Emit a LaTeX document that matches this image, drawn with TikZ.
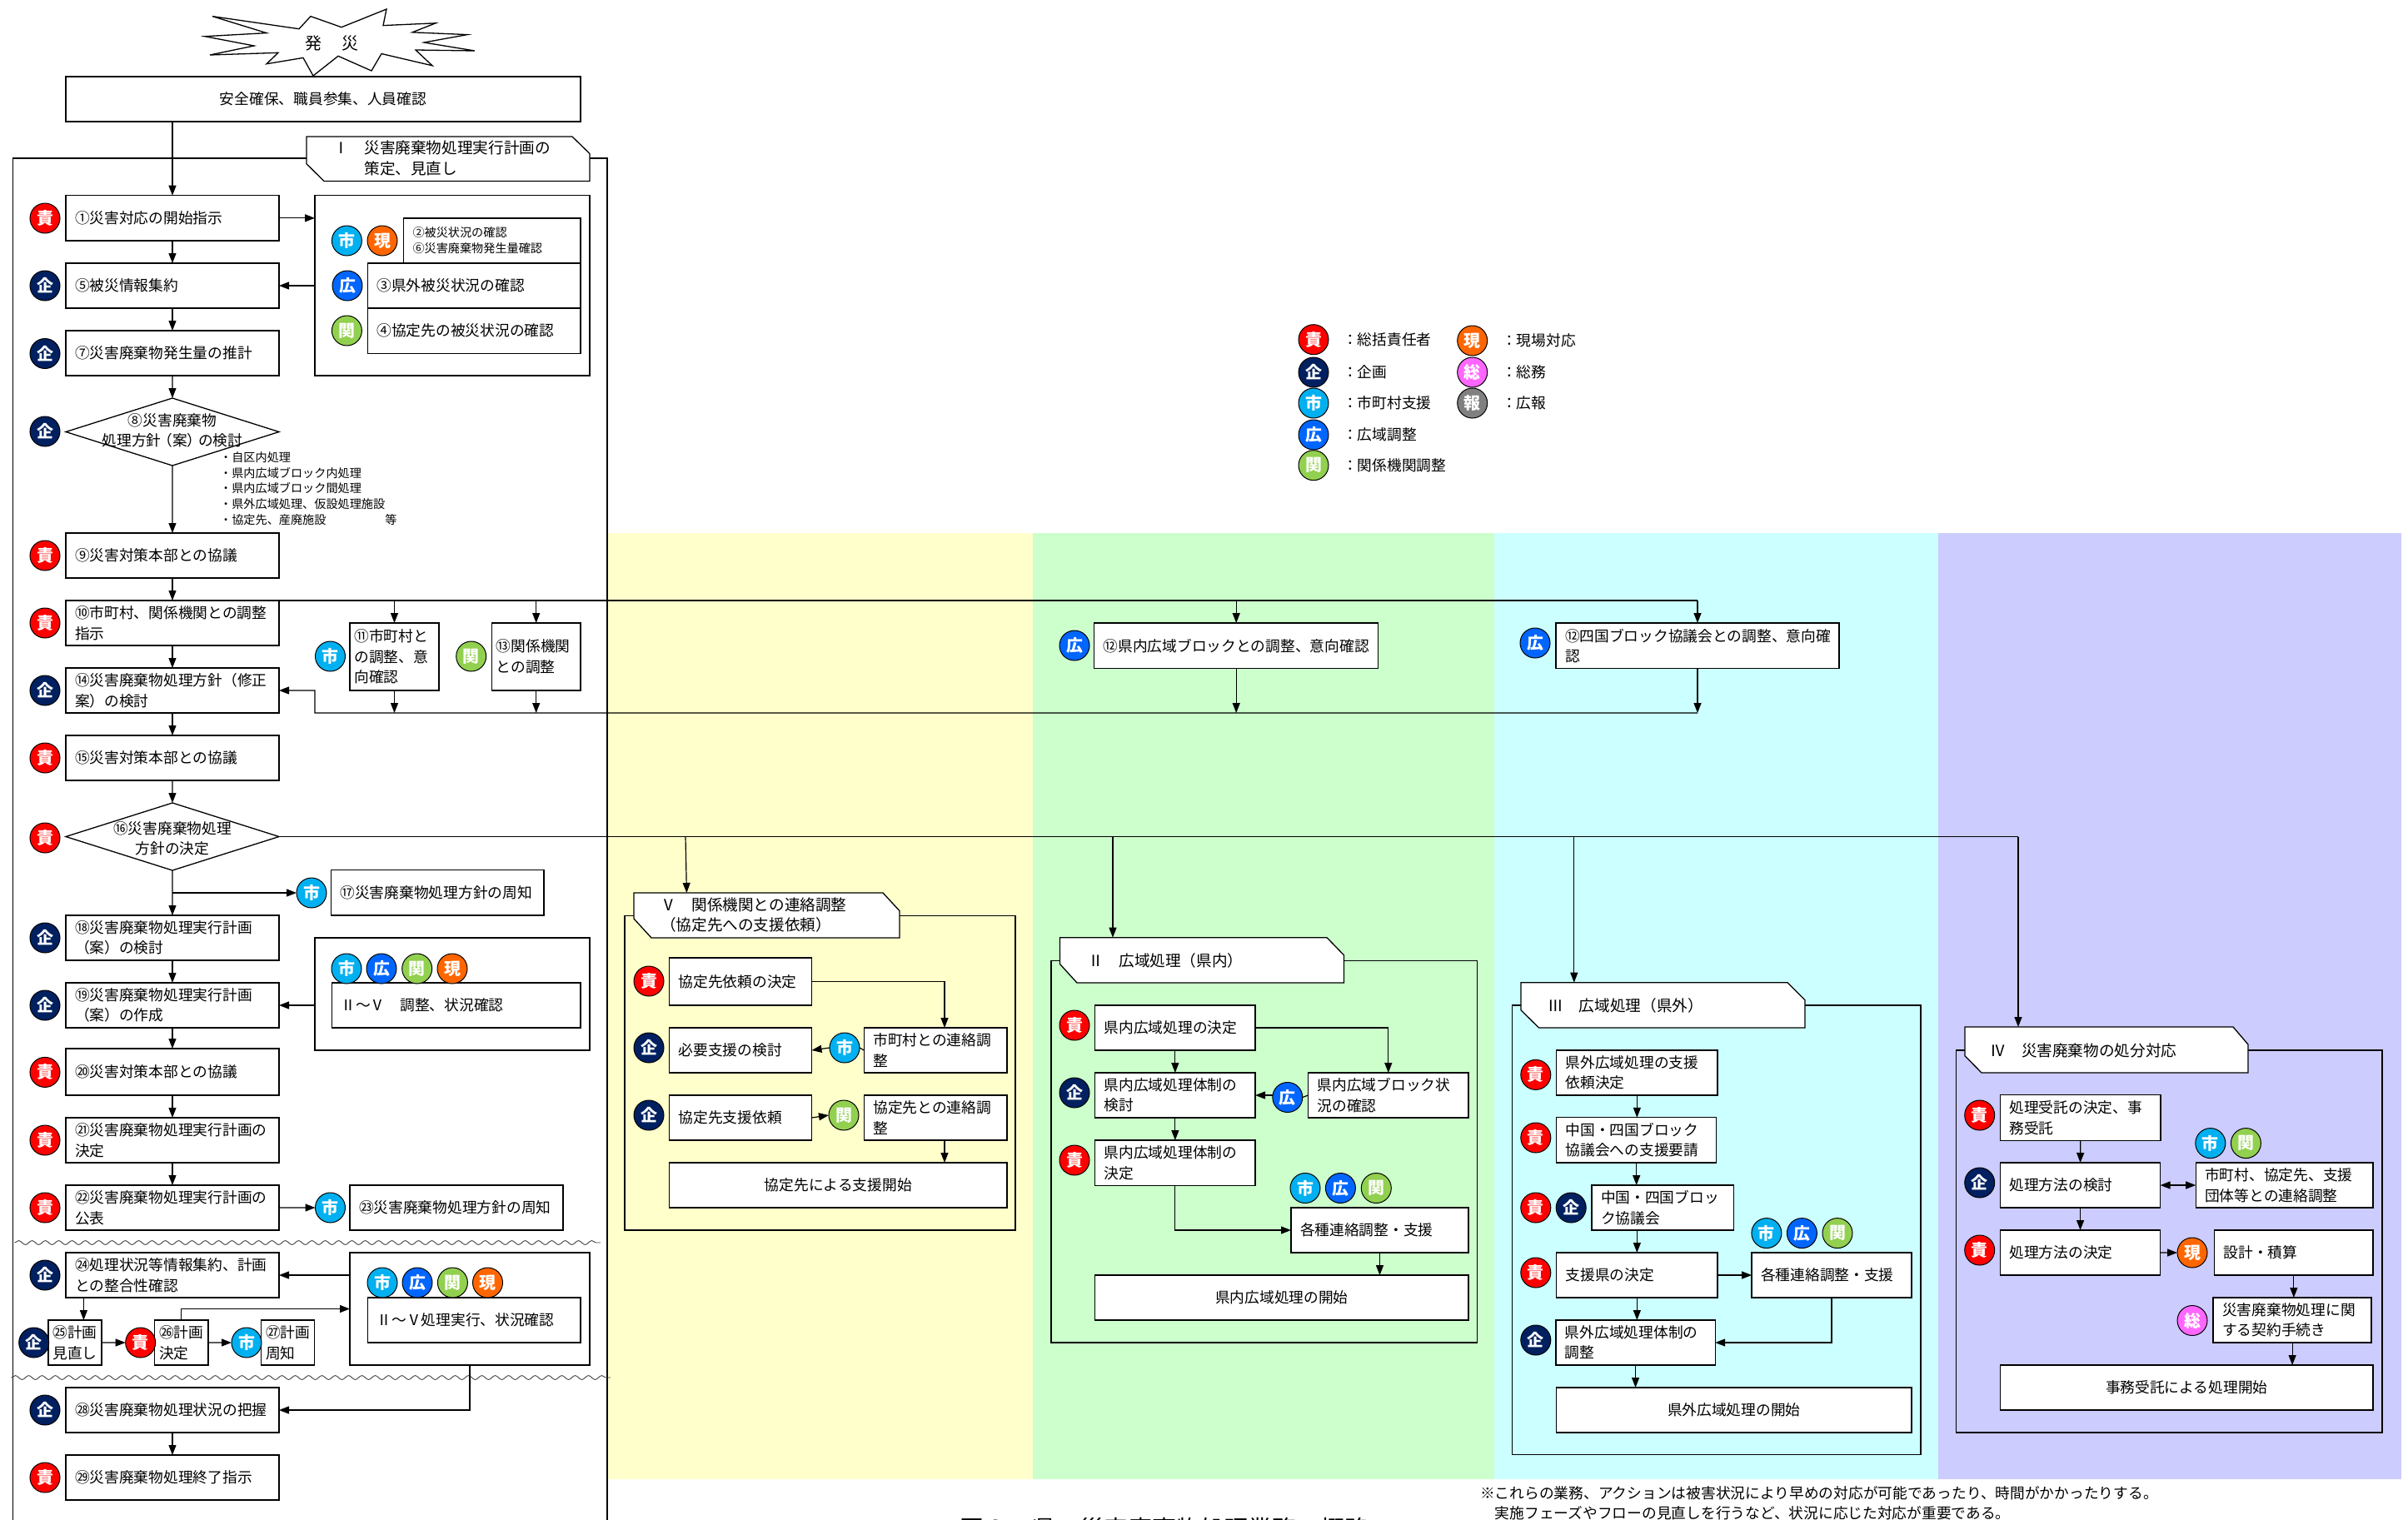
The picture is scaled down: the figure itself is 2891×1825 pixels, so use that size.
\documentclass[tikz,border=0pt]{standalone}
\usepackage{fontspec}
\setmainfont{Noto Sans CJK JP}
\usetikzlibrary{arrows.meta,shapes.geometric,decorations.pathmorphing}
\definecolor{cSeki}{HTML}{FF0000}
\definecolor{cKi}{HTML}{002060}
\definecolor{cShi}{HTML}{00B0F0}
\definecolor{cKo}{HTML}{0066FF}
\definecolor{cKan}{HTML}{92D050}
\definecolor{cGen}{HTML}{FF6600}
\definecolor{cSo}{HTML}{FF66FF}
\definecolor{cHo}{HTML}{808080}
\definecolor{pY}{HTML}{FFFFCC}
\definecolor{pG}{HTML}{CCFFCC}
\definecolor{pC}{HTML}{CCFFFF}
\definecolor{pP}{HTML}{CCCCFF}
\tikzset{
  boxn/.style={draw=black,fill=white,line width=1.3bp,rectangle,inner ysep=0pt,outer sep=0pt,align=left,
    font=\fontsize{17.8}{24.6}\selectfont},
  arr/.style={line width=1.2bp,-{Triangle[length=12bp,width=9bp]}},
  arrb/.style={line width=1.2bp,{Triangle[length=12bp,width=9bp]}-{Triangle[length=12bp,width=9bp]}},
  lin/.style={line width=1.2bp},
  frm/.style={line width=1.3bp,draw=black},
  pentn/.style={line width=1.3bp,draw=black,fill=white},
  titl/.style={anchor=west,inner sep=0pt,align=left,font=\fontsize{18.7}{24.6}\selectfont},
  txt/.style={inner sep=0pt,align=left,font=\fontsize{17.8}{24.6}\selectfont},
  ctr/.style={align=center},
  dia/.style={draw=black,fill=white,line width=1.3bp,diamond,aspect=3.16,minimum width=256bp,minimum height=81bp,inner sep=0pt,outer sep=0pt},
  badge/.style={circle,draw=black,line width=1bp,minimum size=36bp,inner sep=0pt,outer sep=0pt,text=white,
    font=\fontsize{20}{20}\selectfont\bfseries},
  waveln/.style={line width=.9bp,draw=black!75,decorate,decoration={snake,segment length=16bp,amplitude=2.4bp}},
}
\def\ins{11}
\newcommand{\bx}[7][]{%
  \pgfmathsetmacro{\bw}{#5-#3}\pgfmathsetmacro{\bh}{#6-#4}\pgfmathsetmacro{\bt}{\bw-2*\ins}%
  \node[boxn,inner xsep=\ins bp,text width=\bt bp,minimum height=\bh bp,anchor=north west,#1] (#2) at (#3,#4) {#7};}
\newcommand{\bdg}[5]{\node[badge,fill=#4] (#1) at (#2,#3) {#5};}
\begin{document}
\begin{tikzpicture}[x=1bp,y=-1bp]
\useasboundingbox (0,0) rectangle (2891,1825);
\clip (0,0) rectangle (2891,1825);
% colour bands
\fill[pY] (729,640) rectangle (1240,1776);
\fill[pG] (1240,640) rectangle (1794,1776);
\fill[pC] (1794,640) rectangle (2327,1776);
\fill[pP] (2327,640) rectangle (2883,1776);
% frame I
\draw[frm] (15.5,1830) -- (15.5,190) -- (729,190) -- (729,1830);
\draw[waveln] (17.5,1492) -- (721,1492);
\draw[waveln] (13.5,1654) -- (733,1654);
% burst
\draw[pentn] (255,19.6) -- (359,34.7) -- (373,19.6) -- (410,32.7) -- (464,11) -- (460,30.6) -- (523,27.8) -- (495,38.8) -- (561,41.6) -- (509,51) -- (570,61) -- (499,60) -- (519,78.8) -- (458,64.5) -- (446,85) -- (406,67.3) -- (376,91) -- (364,69.4) -- (320,76.7) -- (334,63.3) -- (252,66) -- (305,55) -- (246,43.7) -- (320,39.6) -- cycle;
\node[txt,font=\fontsize{20}{24}\selectfont] (burst) at (398.5,52) {発\kern4pt　災};
\bx[ctr]{safe}{79}{92}{697}{146}{安全確保、職員参集、人員確認}
% title I
\draw[pentn] (368,164) -- (687,164) -- (708,184.5) -- (708,217.5) -- (389,217.5) -- (368,196.7) -- cycle;
\node[titl] (tI) at (400,190) {Ⅰ　災害廃棄物処理実行計画の\\　　策定、見直し};
% left column
\bx{B1}{79}{234.7}{335}{289}{①災害対応の開始指示}
\bx{B5}{79}{316}{335}{370}{⑤被災情報集約}
\bx{B7}{79}{397}{335}{451}{⑦災害廃棄物発生量の推計}
\node[dia] (D8) at (207,518.5) {};
\node[txt,ctr] (D8t) at (207,517) {⑧災害廃棄物\\処理方針\kern-.25em（案）\kern-.25em の検討};
\bx{B9}{79}{640}{335}{694}{⑨災害対策本部との協議}
\bx{B10}{79}{721}{335}{775}{⑩市町村、関係機関との調整\\指示}
\bx{B14}{79}{802}{335}{856}{⑭災害廃棄物処理方針（修正\\案）の検討}
\bx{B15}{79}{883}{335}{937}{⑮災害対策本部との協議}
\node[dia] (D16) at (207,1004.5) {};
\node[txt,ctr] (D16t) at (207,1006.5) {⑯災害廃棄物処理\\方針の決定};
\bx{B18}{79}{1099}{335}{1153}{⑱災害廃棄物処理実行計画\\（案）の検討}
\bx{B19}{79}{1180}{335}{1234}{⑲災害廃棄物処理実行計画\\（案）の作成}
\bx{B20}{79}{1259}{335}{1315}{⑳災害対策本部との協議}
\bx{B21}{79}{1342}{335}{1396}{㉑災害廃棄物処理実行計画の\\決定}
\bx{B22}{79}{1423}{335}{1477}{㉒災害廃棄物処理実行計画の\\公表}
\bx{B24}{79}{1504}{335}{1558}{㉔処理状況等情報集約、計画\\との整合性確認}
\bx{B28}{79}{1666}{335}{1720}{㉘災害廃棄物処理状況の把握}
\bx{B29}{79}{1747}{335}{1801}{㉙災害廃棄物処理終了指示}
% side groups
\bx{G1}{378}{234.7}{708}{451}{}
\bx[font=\fontsize{14.2}{19.2}\selectfont]{S26}{484.5}{262}{697}{316}{②被災状況の確認\\⑥災害廃棄物発生量確認}
\bx{S3}{441.5}{316}{697}{370}{③県外被災状況の確認}
\bx{S4}{441.5}{370}{697}{424.5}{④協定先の被災状況の確認}
\node[txt,font=\fontsize{14.2}{18.7}\selectfont,anchor=west] (note8) at (264,586.5) {・自区内処理\\・県内広域ブロック内処理\\・県内広域ブロック間処理\\・県外広域処理、仮設処理施設\\・協定先、産廃施設　　　　　等};
\def\ins{5.5}
\bx{B11}{420}{748}{527}{829}{⑪市町村と\\の調整、意\\向確認}
\bx{B13}{590.4}{748}{697}{829}{⑬関係機関\\との調整}
\def\ins{11}
\bx{B12a}{1313.7}{748}{1654.7}{802.7}{⑫県内広域ブロックとの調整、意向確認}
\bx{B12b}{1868}{748}{2208}{802.7}{⑫四国ブロック協議会との調整、意向確\\認}
\bx{B17}{397.5}{1044.5}{653}{1099}{⑰災害廃棄物処理方針の周知}
\bx{G2}{378}{1126}{708}{1261}{}
\bx{S2}{398.5}{1180}{697}{1234}{Ⅱ～Ⅴ　調整、状況確認}
\bx{B23}{420}{1423}{676}{1477}{㉓災害廃棄物処理方針の周知}
\bx{G3}{420}{1504}{708}{1639}{}
\bx{S5}{441.6}{1558}{697}{1612}{Ⅱ～Ⅴ処理実行、状況確認}
\def\ins{5.5}
\bx{B25}{58}{1585}{122}{1639}{㉕計画\\見直し}
\bx{B26}{185.6}{1585}{250}{1639}{㉖計画\\決定}
\bx{B27}{313.6}{1585}{377.6}{1639}{㉗計画\\周知}
\def\ins{11}
% badges, left part
\bdg{k1}{54}{262}{cSeki}{責}
\bdg{k5}{54}{343}{cKi}{企}
\bdg{k7}{54}{424.5}{cKi}{企}
\bdg{k8}{54}{518}{cKi}{企}
\bdg{k9}{54}{667}{cSeki}{責}
\bdg{k10}{54}{748}{cSeki}{責}
\bdg{k14}{54}{829}{cKi}{企}
\bdg{k15}{54}{910}{cSeki}{責}
\bdg{k16}{54}{1006}{cSeki}{責}
\bdg{k18}{54}{1126}{cKi}{企}
\bdg{k19}{54}{1207}{cKi}{企}
\bdg{k20}{54}{1287.4}{cSeki}{責}
\bdg{k21}{54}{1369}{cSeki}{責}
\bdg{k22}{54}{1450}{cSeki}{責}
\bdg{k24}{54}{1531}{cKi}{企}
\bdg{k25}{40.7}{1612}{cKi}{企}
\bdg{k26}{168.7}{1612}{cSeki}{責}
\bdg{k27}{296}{1612}{cShi}{市}
\bdg{k28}{54}{1693}{cKi}{企}
\bdg{k29}{54}{1774}{cSeki}{責}
\bdg{s2a}{416.4}{289}{cShi}{市}
\bdg{s2b}{459}{289}{cGen}{現}
\bdg{s3}{417}{343}{cKo}{広}
\bdg{s4}{416.4}{397}{cKan}{関}
\bdg{s11}{396.5}{788}{cShi}{市}
\bdg{s13}{565.7}{788}{cKan}{関}
\bdg{s12a}{1290}{775}{cKo}{広}
\bdg{s12b}{1843}{772}{cKo}{広}
\bdg{s17}{374}{1072}{cShi}{市}
\bdg{g2a}{416}{1163}{cShi}{市}
\bdg{g2b}{458}{1163}{cKo}{広}
\bdg{g2c}{500.7}{1163}{cKan}{関}
\bdg{g2d}{543}{1163}{cGen}{現}
\bdg{s23}{396.5}{1450}{cShi}{市}
\bdg{g3a}{459}{1540}{cShi}{市}
\bdg{g3b}{501}{1540}{cKo}{広}
\bdg{g3c}{543.4}{1540}{cKan}{関}
\bdg{g3d}{585.5}{1540}{cGen}{現}
% left connectors
\draw[arr] (B1.north |- safe.south) -- (B1.north);
\draw[arr] (B1.south) -- (B5.north);
\draw[arr] (B5.south) -- (B7.north);
\draw[arr] (B7.south) -- (D8.north);
\draw[arr] (D8.south) -- (B9.north);
\draw[arr] (B9.south) -- (B10.north);
\draw[arr] (B10.south) -- (B14.north);
\draw[arr] (B14.south) -- (B15.north);
\draw[arr] (B15.south) -- (D16.north);
\draw[arr] (D16.south) -- (B18.north);
\draw[arr] (B18.south) -- (B19.north);
\draw[arr] (B19.south) -- (B20.north);
\draw[arr] (B20.south) -- (B21.north);
\draw[arr] (B21.south) -- (B22.north);
\draw[arr] (B28.south) -- (B29.north);
\draw[arr] (B1.east) -- (B1.east -| G1.west);
\draw[arr] (B5.east -| G1.west) -- (B5.east);
\coordinate (j17) at (207,1072);
\draw[arr] (j17) -- (s17.west);
\draw[arr] (B19.east -| G2.west) -- (B19.east);
\draw[arr] (B22.east) -- (s23.west);
\draw[arr] (B24.east -| G3.west) -- (B24.east);
\coordinate (c25a) at (100.4,1558);
\coordinate (c25b) at (100.4,1585);
\draw[arr] (c25a) -- (c25b);
\draw[arr] (B25.east) -- (k26.west);
\draw[arr] (B26.east) -- (k27.west);
\draw[arr] (B26.north) |- (G3.west);
\draw[arr] (G3.south) |- (B28.east);
% coordination bus
\draw[lin] (B10.north east) -- (B12b.north |- B10.north);
\draw[arr] (B11.north |- B10.north) -- (B11.north);
\draw[arr] (B13.north |- B10.north) -- (B13.north);
\draw[arr] (B12a.north |- B10.north) -- (B12a.north);
\draw[arr] (B12b.north |- B10.north) -- (B12b.north);
\coordinate (jn14) at (378,856);
\draw[arr] (B12b.south |- B14.south) -- (jn14) |- (B14.east);
\draw[arr] (B11.south) -- (B11.south |- B14.south);
\draw[arr] (B13.south) -- (B13.south |- B14.south);
\draw[arr] (B12a.south) -- (B12a.south |- B14.south);
\draw[arr] (B12b.south) -- (B12b.south |- B14.south);
% main branch to phases
\coordinate (hV) at (823,1004.5);
\coordinate (tV) at (824.4,1072);
\coordinate (hII) at (1336,1004.5);
\coordinate (tII) at (1336,1125.7);
\coordinate (hIII) at (1889.8,1004.5);
\coordinate (tIII) at (1889.8,1179.7);
\coordinate (hIV) at (2423,1004.5);
\coordinate (tIV) at (2423,1233);
\draw[lin] (D16.east) -- (hIV);
\draw[arr] (hV) -- (tV);
\draw[arr] (hII) -- (tII);
\draw[arr] (hIII) -- (tIII);
\draw[arr] (hIV) -- (tIV);
% phase V
\draw[frm] (750,1099.3) rectangle (1219,1477);
\draw[pentn] (761,1072) -- (1060,1072) -- (1080,1093.6) -- (1080,1126) -- (782,1126) -- (761,1103) -- cycle;
\node[titl] (tVt) at (793,1098.7) {Ⅴ　関係機関との連絡調整\\（協定先への支援依頼）};
\bx{a}{803.7}{1150}{974.5}{1207}{協定先依頼の決定}
\bx{b}{803.7}{1234}{974.5}{1288}{必要支援の検討}
\bx{c}{803.7}{1315}{974.5}{1369}{協定先支援依頼}
\bx{d}{1037.4}{1234}{1209}{1288}{市町村との連絡調\\整}
\bx{e}{1037.4}{1315}{1209}{1369}{協定先との連絡調\\整}
\bx[ctr]{f}{803.7}{1396}{1209}{1450}{協定先による支援開始}
\bdg{ka}{779}{1178}{cSeki}{責}
\bdg{kb}{779}{1258}{cKi}{企}
\bdg{kc}{779}{1339}{cKi}{企}
\bdg{kd}{1014}{1258}{cShi}{市}
\bdg{ke}{1013}{1339}{cKan}{関}
\coordinate (d1) at (1134,1234);
\coordinate (e1) at (1134,1369);
\coordinate (f1) at (1134,1396);
\draw[arr] (a.east) -| (d1);
\draw[arr] (kd.west) -- (b.east);
\draw[lin] (d.west) -- (kd.east);
\draw[arr] (c.east) -- (ke.west);
\draw[arr] (e1) -- (f1);
% phase II
\draw[frm] (1262,1153.3) rectangle (1773.5,1612);
\draw[pentn] (1272.5,1125.7) -- (1593,1125.7) -- (1613.5,1146.8) -- (1613.5,1180) -- (1293,1180) -- (1272.5,1157.5) -- cycle;
\node[titl] (tIIt) at (1306,1153) {Ⅱ　広域処理（県内）};
\bx{g}{1314.7}{1207}{1507}{1261}{県内広域処理の決定}
\bx{h}{1314.7}{1288}{1507}{1342}{県内広域処理体制の\\検討}
\bx{i}{1314.7}{1369}{1507}{1423.5}{県内広域処理体制の\\決定}
\bx{j}{1570.6}{1288}{1763}{1342}{県内広域ブロック状\\況の確認}
\bx{k}{1550}{1450}{1763}{1504}{各種連絡調整・支援}
\bx[ctr]{l}{1314.7}{1531}{1763}{1585}{県内広域処理の開始}
\bdg{kg}{1290}{1231}{cSeki}{責}
\bdg{kh}{1290}{1312}{cKi}{企}
\bdg{ki}{1290}{1393}{cSeki}{責}
\bdg{kj}{1545.8}{1317.5}{cKo}{広}
\bdg{kk1}{1567}{1426.5}{cShi}{市}
\bdg{kk2}{1609.4}{1426.5}{cKo}{広}
\bdg{kk3}{1652.3}{1426.5}{cKan}{関}
\draw[arr] (g.south) -- (h.north);
\draw[arr] (h.south) -- (i.north);
\draw[arr] (g.east) -| (j.north);
\draw[lin] (j.west) -- (kj.east);
\draw[arr] (kj.west |- h.east) -- (h.east);
\draw[arr] (i.south) |- (k.west);
\draw[arr] (k.south) -- (k.south |- l.north);
% phase III
\draw[frm] (1815.4,1207) rectangle (2305.9,1746.7);
\draw[pentn] (1826,1179.7) -- (2146,1179.7) -- (2167,1200.7) -- (2167,1234) -- (1847.5,1234) -- (1826,1212.8) -- cycle;
\node[titl] (tIIIt) at (1858.4,1207) {Ⅲ　広域処理（県外）};
\bx{m}{1868.6}{1261}{2062.1}{1315}{県外広域処理の支援\\依頼決定}
\bx{n}{1868.6}{1341.8}{2060.8}{1396}{中国・四国ブロック\\協議会への支援要請}
\bx{o}{1911}{1423}{2081.6}{1477}{中国・四国ブロッ\\ク協議会}
\bx{p}{1868.6}{1504}{2062.1}{1558}{支援県の決定}
\bx{q}{1867.9}{1585}{2059.2}{1639}{県外広域処理体制の\\調整}
\bx[ctr]{r}{1868.6}{1666}{2295}{1720}{県外広域処理の開始}
\bx{s}{2103.1}{1504}{2295}{1558}{各種連絡調整・支援}
\bdg{km}{1843.8}{1290.4}{cSeki}{責}
\bdg{kn}{1843.8}{1366}{cSeki}{責}
\bdg{ko1}{1843.8}{1450}{cSeki}{責}
\bdg{ko2}{1886.2}{1450}{cKi}{企}
\bdg{kp}{1843.8}{1528}{cSeki}{責}
\bdg{kq}{1843.8}{1609}{cKi}{企}
\bdg{ks1}{2120.9}{1480.6}{cShi}{市}
\bdg{ks2}{2163.4}{1480.6}{cKo}{広}
\bdg{ks3}{2206}{1480.6}{cKan}{関}
\draw[arr] (m.south) -- (m.south |- n.north);
\draw[arr] (n.south) -- (n.south |- o.north);
\draw[arr] (p.north |- o.south) -- (p.north);
\draw[arr] (p.south) -- (p.south |- q.north);
\draw[arr] (q.south) -- (q.south |- r.north);
\draw[arr] (p.east) -- (s.west);
\draw[arr] (s.south) |- (q.east);
% phase IV
\draw[frm] (2348.4,1261) rectangle (2860,1720);
\draw[pentn] (2359,1233) -- (2681,1233) -- (2699,1254) -- (2699,1288) -- (2379,1288) -- (2359,1267.7) -- cycle;
\node[titl] (tIVt) at (2389.6,1261) {Ⅳ　災害廃棄物の処分対応};
\bx{t}{2401.5}{1314.6}{2594}{1369.5}{処理受託の決定、事\\務受託}
\bx{u}{2401.5}{1396}{2593.6}{1450}{処理方法の検討}
\bx{v}{2401.5}{1477}{2593.6}{1531}{処理方法の決定}
\bx{w}{2636.2}{1396}{2849}{1450}{市町村、協定先、支援\\団体等との連絡調整}
\bx{x}{2658.7}{1477}{2849}{1531}{設計・積算}
\bx{y}{2657.1}{1558}{2847.1}{1612}{災害廃棄物処理に関\\する契約手続き}
\bx[ctr]{z}{2401.5}{1639}{2849}{1693}{事務受託による処理開始}
\bdg{kt}{2376.7}{1339}{cSeki}{責}
\bdg{ku}{2376.7}{1420}{cKi}{企}
\bdg{kv}{2376.7}{1501}{cSeki}{責}
\bdg{kw1}{2653.8}{1372.6}{cShi}{市}
\bdg{kw2}{2696.4}{1372.6}{cKan}{関}
\bdg{kx}{2632}{1504}{cGen}{現}
\bdg{ky}{2632}{1585.5}{cSo}{総}
\draw[arr] (t.south) -- (u.north);
\draw[arr] (u.south) -- (v.north);
\draw[arrb] (u.east) -- (w.west);
\draw[arr] (v.east) -- (kx.west);
\draw[arr] (x.south) -- (x.south |- y.north);
\draw[arr] (y.south) -- (y.south |- z.north);
% legend
\bdg{L1}{1577}{407.7}{cSeki}{責}
\bdg{L2}{1577}{447}{cKi}{企}
\bdg{L3}{1577}{484}{cShi}{市}
\bdg{L4}{1577}{522}{cKo}{広}
\bdg{L5}{1577}{558.7}{cKan}{関}
\bdg{L6}{1767.7}{409}{cGen}{現}
\bdg{L7}{1767.7}{447}{cSo}{総}
\bdg{L8}{1767.7}{484}{cHo}{報}
\node[txt,anchor=west] (T1) at (1612,407.7) {：総括責任者};
\node[txt,anchor=west] (T2) at (1612,447) {：企画};
\node[txt,anchor=west] (T3) at (1612,484) {：市町村支援};
\node[txt,anchor=west] (T4) at (1612,522) {：広域調整};
\node[txt,anchor=west] (T5) at (1612,558.7) {：関係機関調整};
\node[txt,anchor=west] (T6) at (1803,409) {：現場対応};
\node[txt,anchor=west] (T7) at (1803,447) {：総務};
\node[txt,anchor=west] (T8) at (1803,484) {：広報};
% foot
\node[txt,anchor=west,font=\fontsize{17.8}{24}\selectfont] (foot) at (1777,1805) {※これらの業務、アクションは被害状況により早めの対応が可能であったり、時間がかかったりする。\\　実施フェーズやフローの見直しを行うなど、状況に応じた対応が重要である。};
\node[txt,anchor=west,font=\fontsize{29}{30}\selectfont] (cap) at (1152,1835) {図２　県の災害廃棄物処理業務の概略};
\end{tikzpicture}
\end{document}
